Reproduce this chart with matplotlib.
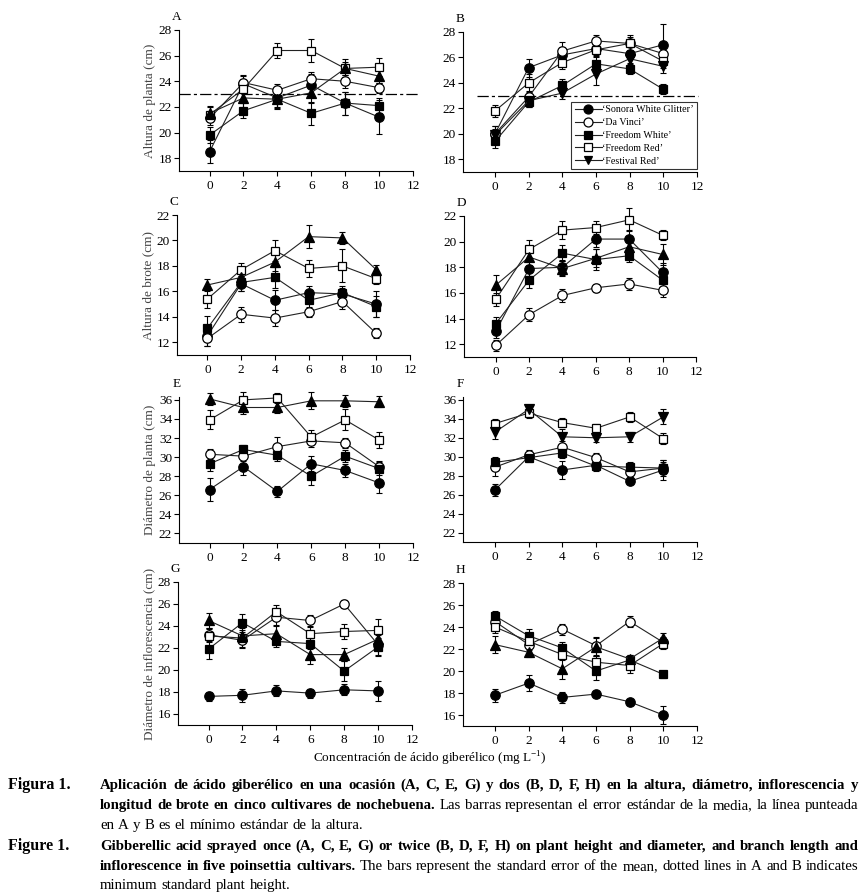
import matplotlib
matplotlib.use("Agg")
import matplotlib.pyplot as plt

plt.rcParams['font.family'] = ['Liberation Serif', 'DejaVu Serif']
plt.rcParams['mathtext.fontset'] = 'custom'
plt.rcParams['mathtext.rm'] = 'Liberation Serif'

W, H = 867, 893

conc = [0, 2, 4, 6, 8, 10]
cultivars = ["\u2018Sonora White Glitter\u2019", "\u2018Da Vinci\u2019", "\u2018Freedom White\u2019",
             "\u2018Freedom Red\u2019", "\u2018Festival Red\u2019"]
min_height = 23

# rows: Sonora White Glitter, Da Vinci, Freedom White, Freedom Red, Festival Red
a_mean = [[18.5, 23.8, 22.7, 23.7, 22.3, 21.2],
          [21.1, 23.9, 23.3, 24.2, 24.0, 23.5],
          [19.8, 21.7, 22.6, 21.5, 22.3, 22.1],
          [21.4, 23.4, 26.4, 26.4, 25.0, 25.1],
          [21.5, 22.7, 22.6, 23.1, 25.0, 24.4]]
a_err = [[0.9, 0.6, 0.8, 0.9, 0.9, 1.3],
         [0.5, 0.6, 0.5, 0.5, 0.5, 0.4],
         [0.6, 0.6, 0.8, 0.9, 0.9, 0.6],
         [0.6, 0.8, 0.6, 0.9, 0.5, 0.7],
         [0.6, 0.9, 0.6, 0.8, 0.7, 0.5]]

b_mean = [[20.0, 25.2, 26.2, 26.7, 26.3, 27.0],
          [20.0, 22.9, 26.5, 27.3, 27.1, 26.3],
          [19.4, 22.5, 23.8, 25.5, 25.1, 23.5],
          [21.8, 24.0, 25.6, 26.6, 27.1, 25.7],
          [19.9, 22.6, 23.2, 24.7, 25.9, 25.3]]
b_err = [[0.6, 0.7, 0.6, 0.5, 0.7, 1.6],
         [0.6, 0.5, 0.7, 0.5, 0.5, 0.5],
         [0.5, 0.4, 0.5, 0.6, 0.4, 0.4],
         [0.5, 0.7, 0.5, 0.6, 0.7, 0.5],
         [0.5, 0.5, 0.5, 0.9, 0.6, 0.5]]

c_mean = [[12.5, 16.6, 15.3, 15.9, 15.8, 15.0],
          [12.3, 14.2, 13.9, 14.4, 15.2, 12.7],
          [13.1, 16.7, 17.1, 15.3, 15.9, 14.8],
          [15.4, 17.7, 19.2, 17.8, 18.0, 17.0],
          [16.5, 17.1, 18.3, 20.3, 20.2, 17.7]]
c_err = [[0.8, 0.6, 0.8, 0.5, 0.5, 1.0],
         [0.6, 0.6, 0.6, 0.4, 0.6, 0.4],
         [1.0, 0.7, 0.8, 0.7, 0.5, 0.8],
         [0.7, 0.5, 0.8, 0.7, 1.3, 0.4],
         [0.5, 0.5, 0.7, 0.9, 0.5, 0.4]]

d_mean = [[13.0, 17.9, 18.0, 20.2, 20.2, 17.6],
          [11.9, 14.3, 15.8, 16.4, 16.7, 16.2],
          [13.6, 17.0, 19.1, 18.6, 18.9, 17.0],
          [15.5, 19.4, 20.9, 21.1, 21.7, 20.5],
          [16.6, 18.8, 17.9, 18.7, 19.6, 19.0]]
d_err = [[0.5, 0.6, 0.6, 0.6, 0.7, 0.7],
         [0.4, 0.5, 0.5, 0.3, 0.5, 0.5],
         [0.5, 0.6, 0.6, 0.8, 0.5, 0.6],
         [0.5, 0.7, 0.7, 0.5, 0.9, 0.4],
         [0.8, 0.6, 0.6, 0.7, 0.8, 0.8]]

e_mean = [[26.6, 29.0, 26.4, 29.3, 28.6, 27.3],
          [30.3, 30.1, 31.1, 31.7, 31.5, 29.0],
          [29.3, 30.8, 30.2, 28.0, 30.1, 28.8],
          [33.9, 36.0, 36.2, 32.1, 33.9, 31.8],
          [36.1, 35.2, 35.2, 35.9, 35.9, 35.8]]
e_err = [[1.2, 0.9, 0.6, 0.8, 0.7, 1.1],
         [0.5, 0.5, 1.0, 0.6, 0.5, 0.6],
         [0.8, 0.5, 0.6, 0.9, 0.6, 0.7],
         [1.0, 0.8, 0.5, 0.7, 1.1, 0.8],
         [0.6, 0.7, 0.6, 0.9, 0.6, 0.6]]

f_mean = [[26.5, 30.0, 28.6, 29.1, 27.4, 28.6],
          [28.9, 30.2, 31.0, 29.9, 28.4, 28.8],
          [29.4, 29.9, 30.4, 29.0, 28.9, 28.8],
          [33.5, 34.6, 33.6, 33.0, 34.2, 31.9],
          [32.6, 35.0, 32.1, 32.0, 32.1, 34.2]]
f_err = [[0.6, 0.5, 0.9, 0.5, 0.3, 1.1],
         [0.9, 0.5, 0.7, 0.5, 0.5, 0.6],
         [0.6, 0.5, 0.5, 0.5, 0.5, 0.8],
         [0.5, 0.5, 0.5, 0.5, 0.5, 0.6],
         [0.7, 0.5, 0.8, 0.5, 0.5, 0.8]]

g_mean = [[17.6, 17.7, 18.1, 17.9, 18.2, 18.1],
          [23.2, 22.7, 24.8, 24.5, 26.0, 22.3],
          [21.9, 24.3, 22.6, 22.4, 19.9, 22.1],
          [23.1, 22.9, 25.3, 23.3, 23.5, 23.6],
          [24.5, 23.1, 23.3, 21.4, 21.4, 22.8]]
g_err = [[0.4, 0.6, 0.5, 0.4, 0.5, 0.9],
         [0.6, 0.6, 0.8, 0.5, 0.4, 0.9],
         [0.9, 0.8, 0.5, 0.5, 0.9, 0.8],
         [0.6, 0.9, 0.6, 0.6, 0.7, 1.0],
         [0.7, 0.5, 0.8, 0.9, 0.6, 0.7]]

h_mean = [[17.8, 18.9, 17.6, 17.9, 17.2, 16.0],
          [24.5, 22.4, 23.8, 22.3, 24.5, 22.6],
          [25.0, 23.2, 22.1, 20.0, 21.0, 19.7],
          [24.0, 22.7, 21.5, 20.8, 20.5, 22.5],
          [22.4, 21.7, 20.2, 22.2, 21.1, 23.0]]
h_err = [[0.6, 0.7, 0.5, 0.3, 0.3, 0.8],
         [0.5, 0.5, 0.5, 0.8, 0.5, 0.5],
         [0.5, 0.6, 0.5, 0.8, 0.5, 0.3],
         [0.5, 0.5, 0.5, 0.6, 0.7, 0.5],
         [0.8, 0.4, 0.9, 0.8, 0.4, 0.5]]

fig = plt.figure(figsize=(W / 100, H / 100), dpi=100)


def panel(box, mean, err, ylim, yticks, letter, tri, xlim, ylabel=None):
    l, t, r, b = box
    ax = fig.add_axes([l / W, 1 - b / H, (r - l) / W, (b - t) / H])
    styles = [('o', 'k'), ('o', 'white'), ('s', 'k'), ('s', 'white'), (tri, 'k')]
    lines = []
    for i, (m, e) in enumerate(zip(mean, err)):
        mk, fc = styles[i]
        ax.errorbar(conc, m, yerr=e, fmt='none', ecolor='k', elinewidth=0.8,
                    capsize=2.5, capthick=0.8, zorder=2, clip_on=False)
        ln, = ax.plot(conc, m, color='#222222', lw=0.8, marker=mk, ms=6.8 if mk != 's' else 6.3,
                      mfc=fc, mec='k', mew=0.9, zorder=3 + i, clip_on=False)
        lines.append(ln)
    ax.set_xlim(*xlim)
    ax.set_ylim(*ylim)
    ax.set_xticks(range(0, 13, 2))
    ax.set_yticks(yticks)
    for s in ['top', 'right']:
        ax.spines[s].set_visible(False)
    for s in ['left', 'bottom']:
        ax.spines[s].set_linewidth(0.8)
    ax.tick_params(direction='out', length=3.5, width=0.8, labelsize=9.5, pad=1.5)
    ax.tick_params(axis='x', pad=3)
    ax.text(-0.012, 1 + 13 / (b - t), letter, transform=ax.transAxes,
            ha='center', va='center', fontsize=9.5)
    if ylabel:
        ax.set_ylabel(ylabel, fontsize=9.5, color='#444444', labelpad=2)
    return ax, lines


xl_left = (-1.8, 12)
xl_right = (-1.9, 12)

axA, _ = panel((179, 30, 413, 171), a_mean, a_err, (17, 28), range(18, 29, 2), 'A', '^', xl_left,
               'Altura de planta (cm)')
axB, lnB = panel((463, 32, 697, 172), b_mean, b_err, (17, 28), range(18, 29, 2), 'B', 'v', xl_right)
axC, _ = panel((177, 215, 410, 355), c_mean, c_err, (11, 22), range(12, 23, 2), 'C', '^', xl_left,
               'Altura de brote (cm)')
axD, _ = panel((464, 216, 696, 357), d_mean, d_err, (11, 22), range(12, 23, 2), 'D', '^', xl_right)
axE, _ = panel((179, 397, 413, 543), e_mean, e_err, (21, 36.3), range(22, 37, 2), 'E', '^', xl_left,
               'Diámetro de planta (cm)')
axF, _ = panel((463, 397, 697, 542), f_mean, f_err, (21, 36.3), range(22, 37, 2), 'F', 'v', xl_right)
axG, _ = panel((178, 582, 412, 725), g_mean, g_err, (15, 28), range(16, 29, 2), 'G', '^', xl_left,
               'Diámetro de inflorescencia (cm)')
axH, _ = panel((463, 583, 697, 726), h_mean, h_err, (15, 28), range(16, 29, 2), 'H', '^', xl_right)

# minimum standard height
axA.axhline(min_height, xmin=0.0, xmax=1.03, color='k', lw=0.9,
            linestyle=(0, (9, 2.5, 2.5, 2.5)), clip_on=False, zorder=1)
axB.axhline(min_height, xmin=0.06, xmax=1.005, color='k', lw=0.9,
            linestyle=(0, (9, 2.5, 2.5, 2.5)), clip_on=False, zorder=1)

leg = axB.legend(lnB, cultivars, loc='lower right', bbox_to_anchor=(1.0, 0.02),
                 prop={'size': 7.2}, frameon=True, fancybox=False, edgecolor='k',
                 labelspacing=0.38, handlelength=2.7, handletextpad=0.0,
                 borderpad=0.35, borderaxespad=0, markerscale=0.95)
leg.get_frame().set_linewidth(0.8)
leg.set_zorder(20)

fig.text(430 / W, 1 - 759 / H, 'Concentración de ácido giberélico (mg L$^{-1}$)',
         ha='center', va='center', fontsize=9.5)

# caption, justified between x=100 and x=858
cap_fs = 10.7
renderer = fig.canvas.get_renderer()


def put(x, y, s, bold=False, fs=None):
    return fig.text(x / W, 1 - y / H, s, ha='left', va='baseline', fontsize=fs or cap_fs,
                    fontweight='bold' if bold else 'normal')


def justify(y, parts, x0=100, x1=858, full=True):
    words = []
    for s, bold in parts:
        words += [(w, bold) for w in s.split()]
    texts = [put(x0, y, w, b) for w, b in words]
    widths = [t.get_window_extent(renderer).width for t in texts]
    if full and len(texts) > 1:
        gap = (x1 - x0 - sum(widths)) / (len(texts) - 1)
    else:
        gap = 0.27 * cap_fs * 100 / 72
    x = x0
    for t, w in zip(texts, widths):
        t.set_x(x / W)
        x += w + gap


put(8, 789, 'Figura 1.', True, 11.5)
justify(789, [('Aplicación de ácido giberélico en una ocasión (A, C, E, G) y dos (B, D, F, H) '
               'en la altura, diámetro, inflorescencia y', True)])
justify(809, [('longitud de brote en cinco cultivares de nochebuena.', True),
              ('Las barras representan el error estándar de la media, la línea punteada', False)])
justify(829, [('en A y B es el mínimo estándar de la altura.', False)], full=False)

put(8, 850, 'Figure 1.', True, 11.5)
justify(850, [('Gibberellic acid sprayed once (A, C, E, G) or twice (B, D, F, H) on plant height '
               'and diameter, and branch length and', True)])
justify(870, [('inflorescence in five poinsettia cultivars.', True),
              ('The bars represent the standard error of the mean, dotted lines in A and B indicates', False)])
justify(889, [('minimum standard plant height.', False)], full=False)

fig.savefig('out.png', dpi=100)
